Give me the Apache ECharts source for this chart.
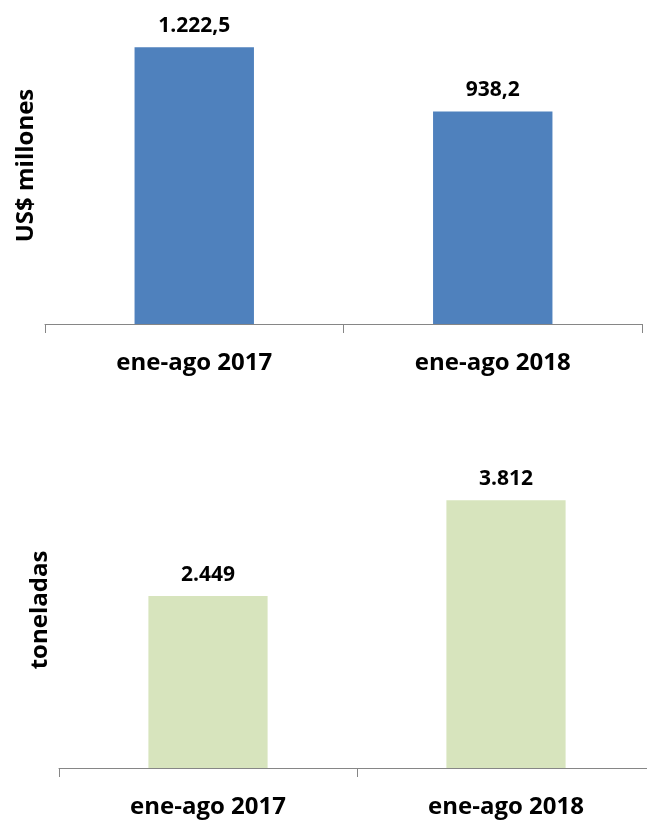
<!DOCTYPE html>
<html>
<head>
<meta charset="utf-8">
<script src="https://cdn.jsdelivr.net/npm/echarts@6/dist/echarts.min.js"></script>
<style>
  html, body { margin: 0; padding: 0; background: #fff; overflow: hidden; }
  #chart { width: 660px; height: 820px; }
</style>
</head>
<body>
<div id="chart"></div>
<script>
// data
var periods = ['ene-ago 2017', 'ene-ago 2018'];
var valorMillones = [1222.5, 938.2];
var valorLabels = ['1.222,5', '938,2'];
var toneladas = [2449, 3812];
var toneladasLabels = ['2.449', '3.812'];

var font = '"Open Sans", Lato, sans-serif';

// chart div is a bit wider than the window: the lower axis runs past the right edge
var myChart = echarts.init(document.getElementById('chart'), null, { renderer: 'canvas' });

function catAxis(gridIndex) {
  return {
    type: 'category',
    gridIndex: gridIndex,
    data: periods,
    axisLine: { lineStyle: { color: '#868686', width: 1 } },
    axisTick: { show: true, length: 9, lineStyle: { color: '#868686' } },
    axisLabel: { color: '#000', fontFamily: font, fontWeight: 'bold', fontSize: 24, margin: 27 }
  };
}

function valAxis(gridIndex, max, name) {
  return {
    type: 'value',
    gridIndex: gridIndex,
    min: 0,
    max: max,
    name: name,
    nameLocation: 'middle',
    nameRotate: 90,
    nameGap: 7,
    nameTextStyle: { color: '#000', fontFamily: font, fontWeight: 'bold', fontSize: 24 },
    axisLine: { show: false },
    axisTick: { show: false },
    axisLabel: { show: false },
    splitLine: { show: false }
  };
}

function barLabel(texts) {
  return {
    show: true,
    position: 'top',
    distance: 11,
    color: '#000',
    fontFamily: font,
    fontWeight: 'bold',
    fontSize: 21,
    formatter: function (p) { return texts[p.dataIndex]; }
  };
}

myChart.setOption({
  animation: false,
  grid: [
    { left: 45, width: 597, top: 7, bottom: 496 },
    { left: 59, width: 596, top: 452, bottom: 52 }
  ],
  xAxis: [catAxis(0), catAxis(1)],
  yAxis: [valAxis(0, 1400, 'US$ millones'), valAxis(1, 4500, 'toneladas')],
  series: [
    {
      type: 'bar',
      xAxisIndex: 0,
      yAxisIndex: 0,
      data: valorMillones,
      barWidth: '40%',
      itemStyle: { color: '#4F81BD' },
      label: barLabel(valorLabels)
    },
    {
      type: 'bar',
      xAxisIndex: 1,
      yAxisIndex: 1,
      data: toneladas,
      barWidth: '40%',
      itemStyle: { color: '#D7E4BD' },
      label: barLabel(toneladasLabels)
    }
  ]
});
</script>
</body>
</html>
